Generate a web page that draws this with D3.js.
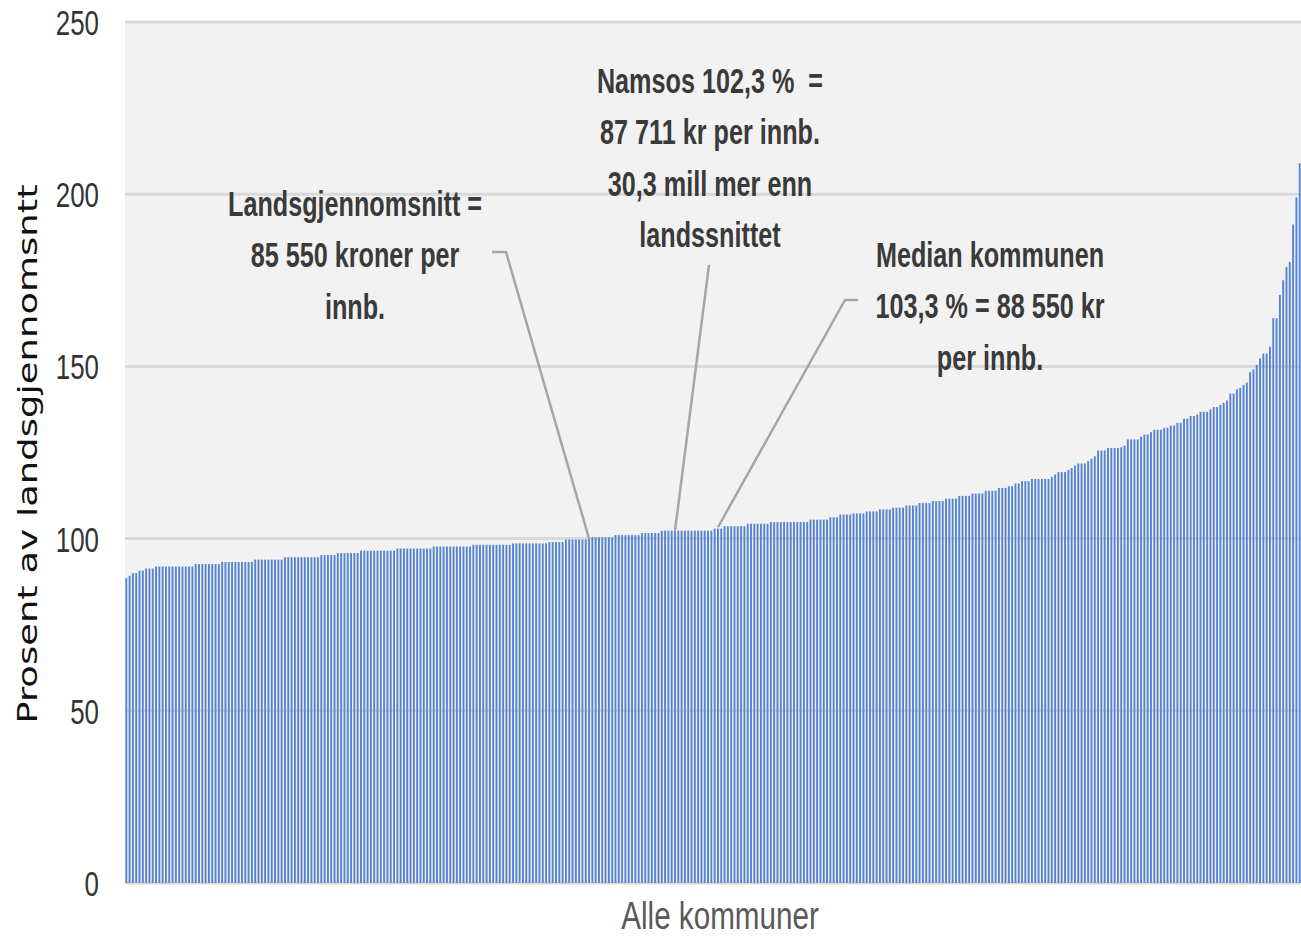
<!DOCTYPE html>
<html>
<head>
<meta charset="utf-8">
<script src="https://cdn.jsdelivr.net/npm/d3@7"></script>
<style>
  html, body { margin: 0; padding: 0; background: #ffffff; }
  svg { display: block; }
</style>
</head>
<body>
<svg id="chart" width="1301" height="939"></svg>
<script>
// Values: percent of national average, all municipalities sorted ascending
const values = [
  88.6, 89.2, 90.0, 90.0, 90.7, 90.7, 91.3, 91.3, 91.3,
  91.9, 91.9, 91.9, 91.9, 91.9, 91.9, 91.9, 91.9, 91.9, 91.9, 91.9, 91.9,
  92.6, 92.6, 92.6, 92.6, 92.6, 92.6, 92.6, 92.6,
  93.2, 93.2, 93.2, 93.2, 93.2, 93.2, 93.2, 93.2, 93.2, 93.2,
  93.9, 93.9, 93.9, 93.9, 93.9, 93.9, 93.9, 93.9, 93.9,
  94.6, 94.6, 94.6, 94.6, 94.6, 94.6, 94.6, 94.6, 94.6, 94.6, 94.6,
  95.2, 95.2, 95.2, 95.2, 95.2,
  95.8, 95.8, 95.8, 95.8, 95.8, 95.8, 95.8,
  96.5, 96.5, 96.5, 96.5, 96.5, 96.5, 96.5, 96.5, 96.5, 96.5, 96.5,
  97.1, 97.1, 97.1, 97.1, 97.1, 97.1, 97.1, 97.1, 97.1, 97.1, 97.1,
  97.7, 97.7, 97.7, 97.7, 97.7, 97.7, 97.7, 97.7, 97.7, 97.7, 97.7, 97.7,
  98.2, 98.2, 98.2, 98.2, 98.2, 98.2, 98.2, 98.2, 98.2, 98.2, 98.2, 98.2,
  98.6, 98.6, 98.6, 98.6, 98.6, 98.6, 98.6, 98.6, 98.6, 98.6, 98.6,
  99.0, 99.0, 99.0, 99.0, 99.0,
  99.7, 99.7, 99.7, 99.7, 99.7, 99.7, 99.7,
  100.0,
  100.4, 100.4, 100.4, 100.4, 100.4, 100.4, 100.4,
  101.0, 101.0, 101.0, 101.0, 101.0, 101.0, 101.0, 101.0,
  101.6, 101.6, 101.6, 101.6, 101.6, 101.6,
  102.3, 102.3, 102.3, 102.3, 102.3, 102.3, 102.3, 102.3,
  102.3, 102.3, 102.3, 102.3, 102.3, 102.3, 102.3, 102.3,
  102.9, 102.9, 102.9,
  103.6, 103.6, 103.6, 103.6, 103.6, 103.6, 103.6,
  104.3, 104.3, 104.3, 104.3, 104.3, 104.3, 104.3,
  104.8, 104.8, 104.8, 104.8, 104.8, 104.8, 104.8, 104.8, 104.8, 104.8, 104.8, 104.8,
  105.5, 105.5, 105.5, 105.5, 105.5, 105.5,
  106.2, 106.2, 106.2,
  107.0, 107.0, 107.0, 107.0,
  107.3, 107.3, 107.3, 107.3,
  107.9, 107.9, 107.9, 107.9,
  108.5, 108.5, 108.5, 108.5,
  109.0, 109.0, 109.0, 109.0,
  109.6, 109.6, 109.6, 109.6,
  110.3, 110.3, 110.3, 110.3,
  110.9, 110.9, 110.9, 110.9,
  111.6, 111.6, 111.6, 111.6,
  112.4, 112.4, 112.4, 112.4,
  113.1, 113.1, 113.1, 113.1,
  113.9, 113.9, 113.9, 113.9,
  114.7, 114.7, 114.7,
  115.2, 115.2,
  116.0, 116.0,
  116.7, 116.7, 116.7,
  117.3, 117.3, 117.3, 117.3, 117.3, 117.3,
  117.9, 118.6,
  119.3, 119.3, 119.3,
  119.9, 120.5, 121.2,
  121.8, 121.8, 121.8,
  122.5, 123.2, 123.9,
  125.6, 125.6, 125.6,
  126.3, 126.3, 126.3, 126.3,
  126.5, 127.0,
  128.8, 128.8, 128.8, 128.8,
  129.6, 130.2, 130.2, 130.9,
  131.6, 131.6, 131.6,
  132.2, 132.2, 132.8, 132.8, 133.6, 133.6, 134.8, 134.8, 135.6, 135.6, 136.0,
  136.8, 136.8, 136.8,
  137.5, 138.2, 138.2, 138.8, 139.4, 140.1, 142.1, 142.1, 143.3, 143.8, 144.6, 145.3,
  148.3, 149.1, 150.4, 152.3, 153.7, 153.7, 155.7, 164.0, 164.0, 170.7, 175.0, 178.9,
  180.3, 191.2, 199.1, 209.0
];

const yTicks = [0, 50, 100, 150, 200, 250];
const yTitle = "Prosent av landsgjennomsntt";
const xTitle = "Alle kommuner";

// Annotation texts and the bar (index, value) each one points to
const annoLandsLines = ["Landsgjennomsnitt =", "85 550 kroner per", "innb."];
const annoNamsosLines = ["Namsos 102,3 %\u00a0 =", "87 711 kr per innb.", "30,3 mill mer enn", "landssnittet"];
const annoMedianLines = ["Median kommunen", "103,3 % = 88 550 kr", "per innb."];
const annoIndex = [140, 166, 179];
const annoValue = [100, 102.3, 103.3];

// ---------------------------------------------------------------
const svg = d3.select("#chart");
const plot = { left: 125, right: 1301, top: 22, bottom: 883 };

const x = d3.scaleBand()
  .domain(d3.range(values.length))
  .range([plot.left, plot.right])
  .paddingInner(0.42)
  .paddingOuter(0.1);

const y = d3.scaleLinear().domain([0, 250]).range([plot.bottom, plot.top]);

// plot background
svg.append("rect")
  .attr("x", plot.left).attr("y", plot.top)
  .attr("width", plot.right - plot.left).attr("height", plot.bottom - plot.top)
  .attr("fill", "#f2f2f2");

// gridlines
svg.append("g").selectAll("line").data(yTicks).join("line")
  .attr("x1", plot.left).attr("x2", plot.right)
  .attr("y1", d => y(d)).attr("y2", d => y(d))
  .attr("stroke", "#d9d9d9").attr("stroke-width", 3);

// bars
svg.append("g").selectAll("rect").data(values).join("rect")
  .attr("x", (d, i) => x(i))
  .attr("width", x.bandwidth())
  .attr("y", d => y(d))
  .attr("height", d => y(0) - y(d))
  .attr("fill", "#5683d2");

// y tick labels
svg.append("g").selectAll("text").data(yTicks).join("text")
  .attr("transform", d => `translate(99,${y(d)}) scale(0.72,1)`)
  .attr("dy", "0.36em")
  .attr("text-anchor", "end")
  .attr("font-family", "'Liberation Sans', Arial, sans-serif")
  .attr("font-size", 36)
  .attr("fill", "#333333")
  .text(d => d);

// y title
svg.append("text")
  .attr("transform", "translate(37,454) scale(0.73,1) rotate(-90)")
  .attr("text-anchor", "middle")
  .attr("font-family", "'DejaVu Sans', Verdana, sans-serif")
  .attr("font-size", 37)
  .attr("fill", "#111111")
  .text(yTitle);

// x title
svg.append("text")
  .attr("transform", "translate(720,929) scale(0.78,1)")
  .attr("text-anchor", "middle")
  .attr("font-family", "'Liberation Sans', Arial, sans-serif")
  .attr("font-size", 38)
  .attr("fill", "#595959")
  .text(xTitle);

// leader lines
function anchor(k) {
  return [x(annoIndex[k]) + x.bandwidth() / 2, y(annoValue[k])];
}
const line = d3.line();
const leaders = [
  [[492, 252], [506, 252], anchor(0)],
  [[709, 265], anchor(1)],
  [[858, 300], [845, 300], anchor(2)]
];
svg.append("g").selectAll("path").data(leaders).join("path")
  .attr("d", d => line(d))
  .attr("fill", "none")
  .attr("stroke", "#a6a6a6")
  .attr("stroke-width", 2.5);

// annotation texts
function annoBlock(lines, cx, firstBaseline, step) {
  const g = svg.append("g");
  g.selectAll("text").data(lines).join("text")
    .attr("transform", (d, i) => `translate(${cx},${firstBaseline + i * step}) scale(0.70,1)`)
    .attr("text-anchor", "middle")
    .attr("font-family", "'Liberation Sans', Arial, sans-serif")
    .attr("font-weight", "bold")
    .attr("font-size", 36)
    .attr("fill", "#3a3a3a")
    .text(d => d);
}
annoBlock(annoLandsLines, 355, 216, 51.3);
annoBlock(annoNamsosLines, 710, 93, 51.3);
annoBlock(annoMedianLines, 990, 267, 51.3);
</script>
</body>
</html>
